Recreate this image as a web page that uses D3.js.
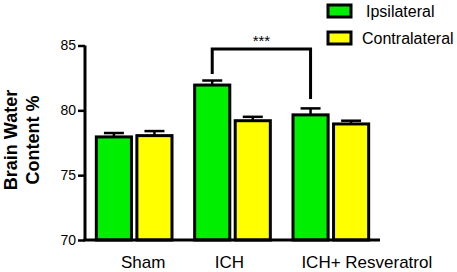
<!DOCTYPE html>
<html>
<head>
<meta charset="utf-8">
<script src="https://cdn.jsdelivr.net/npm/d3@7"></script>
<style>
  body { margin: 0; background: #fff; }
  svg { display: block; font-family: "Liberation Sans", Arial, sans-serif; }
</style>
</head>
<body>
<div id="chart"></div>
<script>
// data
var groups = ["Sham", "ICH", "ICH+ Resveratrol"];
var series = ["Ipsilateral", "Contralateral"];
var colors = ["#00ee00", "#ffff00"];
var ipsiMean = [77.95, 81.95, 79.65];
var ipsiErr = [0.3, 0.35, 0.5];
var contraMean = [78.05, 79.2, 78.95];
var contraErr = [0.35, 0.3, 0.25];
var yTicks = [70, 75, 80, 85];

var width = 457, height = 272;

var svg = d3.select("#chart").append("svg")
  .attr("width", width).attr("height", height);

var x0 = d3.scaleBand().domain(groups).range([85, 380])
  .paddingInner(0.2).paddingOuter(0.1);
var x1 = d3.scaleBand().domain(series).range([0, x0.bandwidth()])
  .paddingInner(0.06);
var y = d3.scaleLinear().domain([70, 85]).range([240, 45.5]);

var rows = [];
groups.forEach(function (g, i) {
  rows.push({ g: g, s: series[0], v: ipsiMean[i], e: ipsiErr[i], c: colors[0] });
  rows.push({ g: g, s: series[1], v: contraMean[i], e: contraErr[i], c: colors[1] });
});

// error bars (upper only), drawn under bars
var eb = svg.append("g").selectAll("g").data(rows).enter().append("g")
  .attr("stroke", "#000").attr("stroke-width", 2.5);
eb.append("line")
  .attr("x1", function (d) { return x0(d.g) + x1(d.s) + x1.bandwidth() / 2; })
  .attr("x2", function (d) { return x0(d.g) + x1(d.s) + x1.bandwidth() / 2; })
  .attr("y1", function (d) { return y(d.v); })
  .attr("y2", function (d) { return y(d.v + d.e); });
eb.append("line")
  .attr("x1", function (d) { return x0(d.g) + x1(d.s) + x1.bandwidth() / 2 - 10; })
  .attr("x2", function (d) { return x0(d.g) + x1(d.s) + x1.bandwidth() / 2 + 10; })
  .attr("y1", function (d) { return y(d.v + d.e); })
  .attr("y2", function (d) { return y(d.v + d.e); });

// bars
svg.append("g").selectAll("rect").data(rows).enter().append("rect")
  .attr("x", function (d) { return x0(d.g) + x1(d.s) + 1.5; })
  .attr("width", x1.bandwidth() - 3)
  .attr("y", function (d) { return y(d.v); })
  .attr("height", function (d) { return y(70) - y(d.v); })
  .attr("fill", function (d) { return d.c; })
  .attr("stroke", "#000").attr("stroke-width", 3);

// y axis
var yAxis = svg.append("g").attr("transform", "translate(85,0)")
  .call(d3.axisLeft(y).tickValues(yTicks).tickSize(7).tickPadding(2));
yAxis.select(".domain").attr("stroke-width", 3).attr("d", "M0," + y(85) + "V" + y(70));
yAxis.selectAll(".tick line").attr("stroke-width", 2.5);
yAxis.selectAll("text").attr("font-size", 14).attr("fill", "#000");

// x axis line
svg.append("line")
  .attr("x1", 83.5).attr("x2", 380)
  .attr("y1", y(70)).attr("y2", y(70))
  .attr("stroke", "#000").attr("stroke-width", 3);

// category labels (slightly shifted like the original)
var labelShift = { "Sham": 9, "ICH": -3, "ICH+ Resveratrol": 36 };
svg.append("g").selectAll("text").data(groups).enter().append("text")
  .attr("x", function (d) { return x0(d) + x0.bandwidth() / 2 + labelShift[d]; })
  .attr("y", 268)
  .attr("text-anchor", "middle")
  .attr("font-size", 17)
  .text(function (d) { return d; });

// y label
var yl = svg.append("text")
  .attr("transform", "translate(0,140) rotate(-90)")
  .attr("text-anchor", "middle")
  .attr("font-weight", "bold")
  .attr("font-size", 18);
yl.append("tspan").attr("x", 0).attr("y", 17).text("Brain Water");
yl.append("tspan").attr("x", 0).attr("y", 39).text("Content %");

// significance bracket ICH vs ICH+ Resveratrol (ipsilateral)
var bx1 = x0(groups[1]) + x1(series[0]) + x1.bandwidth() / 2;
var bx2 = x0(groups[2]) + x1(series[0]) + x1.bandwidth() / 2;
svg.append("path")
  .attr("d", "M" + bx1 + ",74V49H" + bx2 + "V99")
  .attr("fill", "none").attr("stroke", "#000").attr("stroke-width", 3);
svg.append("text")
  .attr("x", (bx1 + bx2) / 2).attr("y", 46)
  .attr("text-anchor", "middle").attr("font-size", 15)
  .text("***");

// legend
var lg = svg.append("g").selectAll("g").data(series).enter().append("g")
  .attr("transform", function (d, i) { return "translate(328," + (5 + i * 27) + ")"; });
lg.append("rect")
  .attr("width", 23).attr("height", 12)
  .attr("fill", function (d, i) { return colors[i]; })
  .attr("stroke", "#000").attr("stroke-width", 3);
lg.append("text")
  .attr("x", function (d, i) { return i === 0 ? 38 : 34; })
  .attr("y", 12)
  .attr("font-size", 16)
  .text(function (d) { return d; });
</script>
</body>
</html>
